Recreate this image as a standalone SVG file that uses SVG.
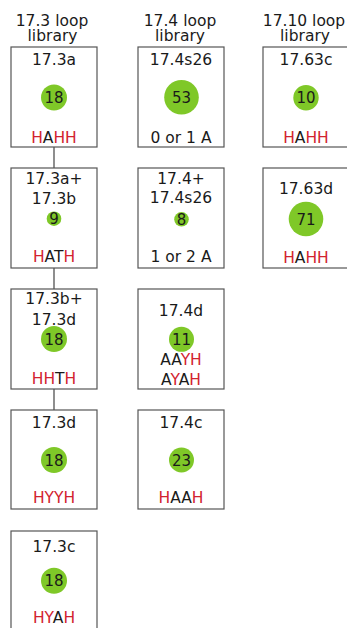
<svg xmlns="http://www.w3.org/2000/svg" width="347" height="628" viewBox="0 0 347 628">
<style>
text{font-family:"DejaVu Sans",Verdana,sans-serif;fill:#1a1a1a;text-anchor:middle}
.h{font-size:15.5px}
.t{font-size:15.5px}
.n{font-size:15px}
.r{fill:#d2232f}
.box{fill:#fff;stroke:#555;stroke-width:1.2}
.c{fill:#7fc828}
.ln{stroke:#444;stroke-width:1.2;fill:none}
</style>
<rect width="347" height="628" fill="#fff"/>
<g id="headers">
<text class="h" x="52" y="25.5">17.3 loop</text><text class="h" x="52.5" y="41">library</text>
<text class="h" x="180" y="25.5">17.4 loop</text><text class="h" x="180" y="41">library</text>
<text class="h" x="304" y="25.5">17.10 loop</text><text class="h" x="305" y="41">library</text>
</g>
<g id="connectors">
<line class="ln" x1="54" y1="147" x2="54" y2="168"/>
<line class="ln" x1="54" y1="268" x2="54" y2="289"/>
<line class="ln" x1="54" y1="389" x2="54" y2="410"/>
</g>
<g id="n173a">
<rect class="box" x="11" y="47" width="86" height="100"/>
<text class="t" x="54" y="65">17.3a</text>
<circle class="c" cx="54" cy="97.5" r="13"/><text class="n" x="54" y="103">18</text>
<text class="t" x="54" y="142.5"><tspan class="r">H</tspan>A<tspan class="r">HH</tspan></text>
</g>
<g id="n173ab">
<rect class="box" x="11" y="168" width="86" height="100"/>
<text class="t" x="54" y="183.5">17.3a+</text>
<text class="t" x="54" y="204">17.3b</text>
<circle class="c" cx="54" cy="218.7" r="7.3"/><text class="n" x="54" y="224">9</text>
<text class="t" x="54" y="261.7"><tspan class="r">H</tspan>AT<tspan class="r">H</tspan></text>
</g>
<g id="n173bd">
<rect class="box" x="11" y="289" width="86" height="100"/>
<text class="t" x="54" y="304">17.3b+</text>
<text class="t" x="54" y="325">17.3d</text>
<circle class="c" cx="54" cy="339" r="13"/><text class="n" x="54" y="344.5">18</text>
<text class="t" x="54" y="384"><tspan class="r">HH</tspan>T<tspan class="r">H</tspan></text>
</g>
<g id="n173d">
<rect class="box" x="11" y="410" width="86" height="99"/>
<text class="t" x="54" y="428.3">17.3d</text>
<circle class="c" cx="54" cy="460" r="13"/><text class="n" x="54" y="465.5">18</text>
<text class="t r" x="54" y="503.3">HYYH</text>
</g>
<g id="n173c">
<rect class="box" x="11" y="531" width="86" height="100"/>
<text class="t" x="54" y="551.7">17.3c</text>
<circle class="c" cx="54" cy="580.7" r="13"/><text class="n" x="54" y="586.2">18</text>
<text class="t" x="54" y="623.3"><tspan class="r">HY</tspan>A<tspan class="r">H</tspan></text>
</g>
<g id="n174s26">
<rect class="box" x="138" y="47" width="86" height="100"/>
<text class="t" x="181" y="64.5">17.4s26</text>
<circle class="c" cx="181.5" cy="97.3" r="17.3"/><text class="n" x="181.5" y="102.8">53</text>
<text class="t" x="181" y="142.7">0 or 1 A</text>
</g>
<g id="n174p">
<rect class="box" x="138" y="168" width="86" height="100"/>
<text class="t" x="181" y="184">17.4+</text>
<text class="t" x="181" y="203.3">17.4s26</text>
<circle class="c" cx="181.5" cy="219.3" r="7.3"/><text class="n" x="181.5" y="224.6">8</text>
<text class="t" x="181" y="261.7">1 or 2 A</text>
</g>
<g id="n174d">
<rect class="box" x="138" y="289" width="86" height="100"/>
<text class="t" x="181" y="316">17.4d</text>
<circle class="c" cx="181.5" cy="339.3" r="12.5"/><text class="n" x="181.5" y="344.8">11</text>
<text class="t" x="181" y="365">AA<tspan class="r">YH</tspan></text>
<text class="t" x="181" y="385">A<tspan class="r">Y</tspan>A<tspan class="r">H</tspan></text>
</g>
<g id="n174c">
<rect class="box" x="138" y="410" width="86" height="99"/>
<text class="t" x="181" y="428.3">17.4c</text>
<circle class="c" cx="181.5" cy="460" r="12.5"/><text class="n" x="181.5" y="465.5">23</text>
<text class="t" x="181" y="503.3"><tspan class="r">H</tspan>AA<tspan class="r">H</tspan></text>
</g>
<g id="n1763c">
<rect class="box" x="263" y="47" width="86" height="100"/>
<text class="t" x="306" y="65">17.63c</text>
<circle class="c" cx="306" cy="97.7" r="12.7"/><text class="n" x="306" y="103.2">10</text>
<text class="t" x="306" y="142.7"><tspan class="r">H</tspan>A<tspan class="r">HH</tspan></text>
</g>
<g id="n1763d">
<rect class="box" x="263" y="168" width="86" height="100"/>
<text class="t" x="306" y="194">17.63d</text>
<circle class="c" cx="306" cy="219" r="17.3"/><text class="n" x="306" y="224.5">71</text>
<text class="t" x="306" y="263.3"><tspan class="r">H</tspan>A<tspan class="r">HH</tspan></text>
</g>
</svg>
